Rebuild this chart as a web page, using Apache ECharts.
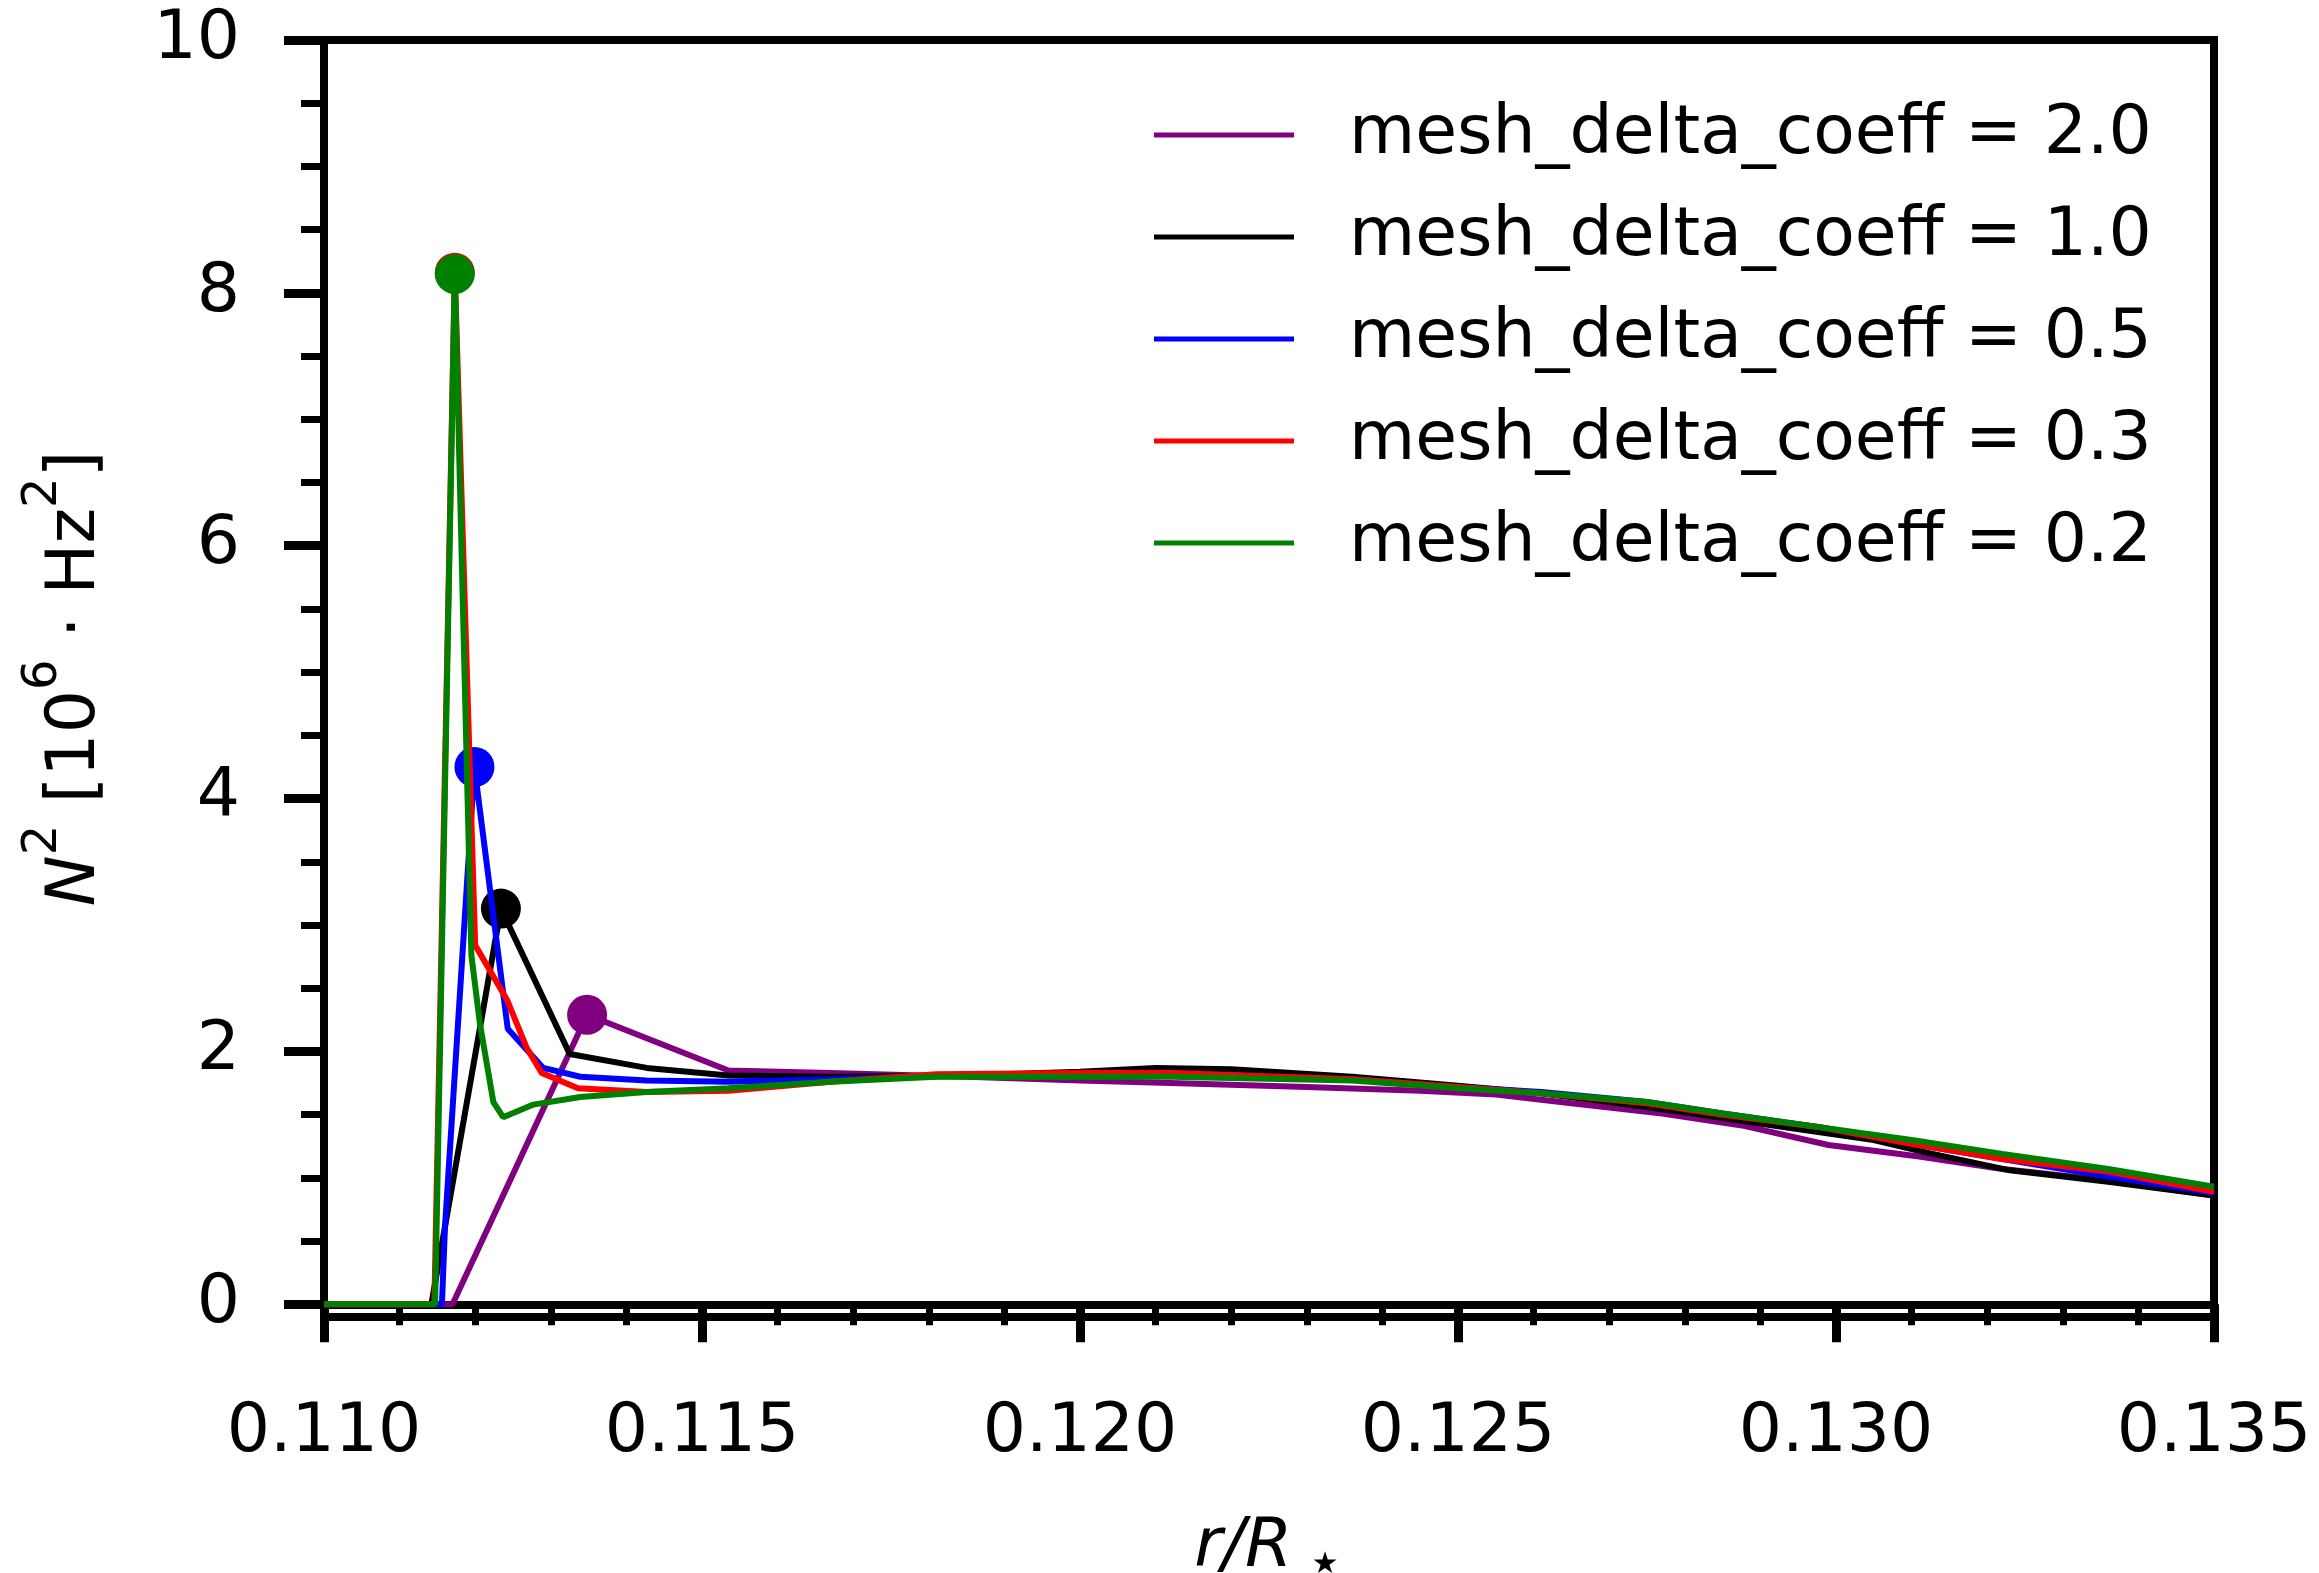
<!DOCTYPE html>
<html><head><meta charset="utf-8">
<script src="https://cdn.jsdelivr.net/npm/echarts@6/dist/echarts.min.js"></script>
<style>html,body{margin:0;padding:0;background:#fff}#c{width:2319px;height:1573px}</style>
</head><body><div id="c"></div>
<script>
const seriesNames = ['mesh_delta_coeff = 2.0','mesh_delta_coeff = 1.0','mesh_delta_coeff = 0.5','mesh_delta_coeff = 0.3','mesh_delta_coeff = 0.2'];
const seriesColors = ['#800080','#000000','#0000ff','#ff0000','#008000'];

const purple = [[0.1100,0],[0.1117,0],[0.11348,2.29],[0.11535,1.85],[0.1167,1.83],[0.1185,1.80],[0.1200,1.77],[0.1212,1.75],[0.1230,1.72],[0.1245,1.69],[0.1255,1.66],[0.1265,1.59],[0.1277,1.51],[0.1288,1.41],[0.1299,1.26],[0.1311,1.17],[0.1322,1.07],[0.1336,0.98],[0.1350,0.86]];
const black = [[0.1100,0],[0.11142,0],[0.11234,3.13],[0.11325,1.98],[0.11427,1.87],[0.11535,1.81],[0.1167,1.80],[0.1185,1.81],[0.1200,1.84],[0.1210,1.87],[0.1220,1.86],[0.1236,1.80],[0.1250,1.73],[0.1261,1.67],[0.1270,1.60],[0.1280,1.52],[0.1291,1.42],[0.1305,1.30],[0.1312,1.20],[0.1323,1.06],[0.1336,0.97],[0.1350,0.86]];
const blue = [[0.1100,0],[0.11156,0],[0.11160,0.61],[0.11199,4.25],[0.11243,2.18],[0.11290,1.87],[0.11339,1.80],[0.11427,1.77],[0.11535,1.76],[0.1167,1.78],[0.1185,1.81],[0.1200,1.82],[0.1212,1.83],[0.1236,1.78],[0.1250,1.72],[0.1261,1.68],[0.1275,1.60],[0.1285,1.51],[0.1298,1.40],[0.1310,1.27],[0.1322,1.15],[0.1336,1.01],[0.1350,0.88]];
const red = [[0.1100,0],[0.11146,0],[0.11173,8.16],[0.11200,2.84],[0.11242,2.41],[0.11268,2.03],[0.11288,1.83],[0.11336,1.71],[0.11427,1.68],[0.11535,1.69],[0.1167,1.76],[0.1181,1.82],[0.1200,1.83],[0.1212,1.83],[0.1236,1.78],[0.1250,1.72],[0.1261,1.67],[0.1275,1.59],[0.1285,1.50],[0.1298,1.40],[0.1310,1.27],[0.1322,1.15],[0.1336,1.05],[0.1350,0.89]];
const green = [[0.1100,0],[0.11147,0],[0.11173,8.15],[0.11195,2.76],[0.11206,2.23],[0.11224,1.60],[0.11237,1.48],[0.11277,1.58],[0.11339,1.64],[0.11427,1.68],[0.11535,1.71],[0.1167,1.76],[0.1181,1.80],[0.1200,1.80],[0.1212,1.80],[0.1236,1.77],[0.1250,1.71],[0.1261,1.67],[0.1275,1.60],[0.1285,1.51],[0.1298,1.40],[0.1310,1.30],[0.1322,1.19],[0.1336,1.07],[0.1350,0.93]];

const yMajorTicks = [0,2,4,6,8,10];
const yMinorTicks = [0.5,1,1.5,2.5,3,3.5,4.5,5,5.5,6.5,7,7.5,8.5,9,9.5];

const allData = [purple, black, blue, red, green];
const FS = 68;
const FF = 'DejaVu Sans';
const series = [];
allData.forEach((d, i) => {
  series.push({
    name: seriesNames[i], type: 'line', data: d, symbol: 'none',
    lineStyle: {color: seriesColors[i], width: 6}, itemStyle: {color: seriesColors[i]},
    z: 2 + i * 2, silent: true
  });
  let peak = d[0];
  d.forEach(p => { if (p[1] > peak[1]) peak = p; });
  series.push({
    name: 'peak ' + seriesNames[i], type: 'scatter', data: [peak], symbol: 'circle', symbolSize: 40,
    itemStyle: {color: seriesColors[i], opacity: 1}, z: 3 + i * 2, silent: true
  });
});

const chart = echarts.init(document.getElementById('c'), null, {renderer: 'canvas'});
chart.setOption({
  animation: false,
  backgroundColor: '#fff',
  textStyle: {fontFamily: FF},
  grid: {left: 324, right: 105, top: 40, bottom: 256, outerBoundsMode: 'none', containLabel: false,
         show: true, borderColor: '#000', borderWidth: 8, backgroundColor: 'transparent'},
  legend: {
    data: seriesNames, orient: 'vertical', left: 1154, top: 100, padding: 0,
    icon: 'rect', itemWidth: 140, itemHeight: 5, itemGap: 32,
    textStyle: {fontSize: FS, color: '#000', fontFamily: FF, lineHeight: 70, padding: [0, 0, 0, 50]},
    selectedMode: false
  },
  xAxis: {
    type: 'value', min: 0.110, max: 0.135, interval: 0.005,
    axisLine: {show: true, lineStyle: {color: '#000', width: 8}},
    axisTick: {show: true, inside: false, length: 38, lineStyle: {color: '#000', width: 9}},
    minorTick: {show: true, splitNumber: 5, length: 21, lineStyle: {color: '#000', width: 7}},
    splitLine: {show: false},
    axisLabel: {fontSize: FS, color: '#000', margin: 82, fontFamily: FF, formatter: v => v.toFixed(3)},
    name: '{i|r/R}{s|⋆}', nameLocation: 'middle', nameGap: 197,
    nameTextStyle: {rich: {
      i: {fontSize: FS, lineHeight: 68, fontStyle: 'italic', color: '#000', fontFamily: FF, verticalAlign: 'top'},
      s: {fontSize: 60, lineHeight: 60, color: '#000', fontFamily: FF, verticalAlign: 'top', padding: [22, 0, 0, 14]}
    }}
  },
  yAxis: [{
    type: 'value', min: -0.1, max: 10,
    axisLine: {show: true, lineStyle: {color: '#000', width: 8}},
    axisTick: {show: true, inside: false, length: 40, customValues: yMajorTicks, lineStyle: {color: '#000', width: 9}},
    splitLine: {show: false},
    axisLabel: {fontSize: FS, color: '#000', margin: 84, customValues: yMajorTicks, fontFamily: FF},
    name: '{i|N}{sup|2}{t| [10}{sup|6}{t| · Hz}{sup|2}{t|]}', nameLocation: 'middle', nameGap: 214, nameRotate: 90,
    nameTextStyle: {fontSize: FS, color: '#000', fontFamily: FF, rich: {
      i: {fontSize: FS, lineHeight: 90, fontStyle: 'italic', color: '#000', fontFamily: FF, verticalAlign: 'bottom'},
      t: {fontSize: FS, lineHeight: 90, color: '#000', fontFamily: FF, verticalAlign: 'bottom'},
      sup: {fontSize: 48, lineHeight: 48, color: '#000', fontFamily: FF, verticalAlign: 'top'}
    }}
  }, {
    type: 'value', min: -0.1, max: 10, position: 'left',
    axisLine: {show: false},
    axisTick: {show: true, inside: false, length: 23, customValues: yMinorTicks, lineStyle: {color: '#000', width: 7}},
    splitLine: {show: false},
    axisLabel: {show: false}
  }],
  series: series
});
</script></body></html>
